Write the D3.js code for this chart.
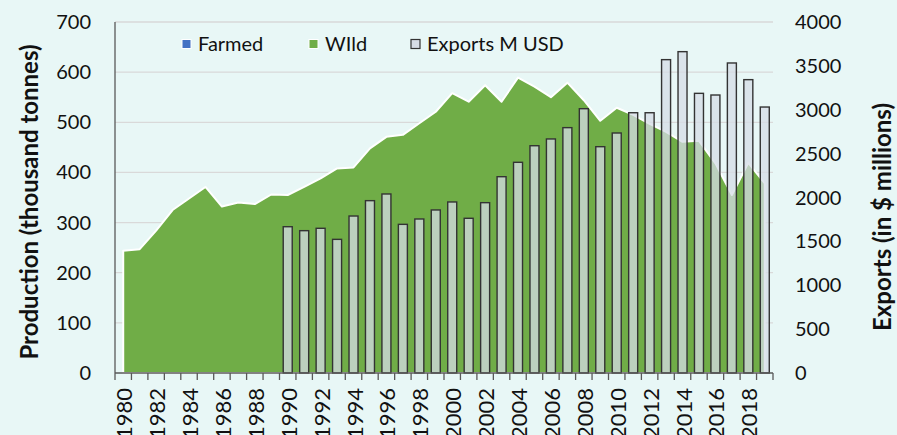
<!DOCTYPE html>
<html>
<head>
<meta charset="utf-8">
<script src="https://cdn.jsdelivr.net/npm/d3@7"></script>
<style>
body{margin:0;background:#e8f7f6;}
text{font-family:Lato, "Open Sans", sans-serif;fill:#111;}
</style>
</head>
<body>
<div id="chart"></div>
<script>
var years = d3.range(1980, 2020)
var tickYears = [1980,1982,1984,1986,1988,1990,1992,1994,1996,1998,2000,2002,2004,2006,2008,2010,2012,2014,2016,2018]

var wild = [244,247,284,325,348,371,332,340,337,356,355,371,388,408,410,448,471,475,498,521,
            558,541,574,541,589,571,550,579,544,503,529,515,497,481,461,463,418,355,419,378]
var farmed = [0,0,0,0,0,0,0,0,0,0,0,0,0,0,0,0,0,0,0,0,
              0,0,0,0,0,0,0,0,0,0,0,0,0,0,0,0,0,0,0,0]

var exportYears = d3.range(1990, 2020)
var exportsUSD = [1667,1622,1649,1523,1789,1964,2040,1694,1755,1858,
                  1949,1763,1941,2237,2401,2590,2667,2796,3012,2579,
                  2735,2966,2966,3571,3662,3187,3168,3533,3343,3031]

var leftTicks = [0,100,200,300,400,500,600,700]
var rightTicks = [0,500,1000,1500,2000,2500,3000,3500,4000]
var legendItems = ["Farmed","WIld","Exports M USD"]

var w = 897
var h = 435
var pLeft = 115
var pRight = 773
var pTop = 22
var pBottom = 373

var green = "#70ad47"
var blue = "#4472c4"

var svg = d3.select("#chart").append("svg")
    .attr("width",w)
    .attr("height",h)

var x = d3.scaleBand().domain(years).range([pLeft,pRight])
var yL = d3.scaleLinear().domain([0,700]).range([pBottom,pTop])
var yR = d3.scaleLinear().domain([0,4000]).range([pBottom,pTop])

// gridlines
svg.selectAll(".grid")
    .data(leftTicks.slice(1))
    .join("line")
    .attr("x1",pLeft).attr("x2",pRight)
    .attr("y1",function(d){return yL(d)})
    .attr("y2",function(d){return yL(d)})
    .attr("stroke","#d9d9d9")
    .attr("stroke-width",1.3)

// wild + farmed stacked
var stackData = years.map(function(y,i){return {year:y,wild:wild[i],farmed:farmed[i]}})
var stacked = d3.stack().keys(["wild","farmed"])(stackData)

var area = d3.area()
    .x(function(d){return x(d.data.year)+x.bandwidth()/2})
    .y0(function(d){return yL(d[0])})
    .y1(function(d){return yL(d[1])})

svg.append("path")
    .datum(stacked[0])
    .attr("d",area)
    .attr("fill",green)
    .attr("stroke","white")
    .attr("stroke-width",2)
    .attr("stroke-linejoin","round")

svg.append("path")
    .datum(stacked[1])
    .attr("d",area)
    .attr("fill",blue)

// export bars
var barW = 9
svg.selectAll(".bar")
    .data(exportsUSD)
    .join("rect")
    .attr("x",function(d,i){return x(exportYears[i])+x.bandwidth()/2-barW/2})
    .attr("y",function(d){return yR(d)})
    .attr("width",barW)
    .attr("height",function(d){return pBottom-yR(d)})
    .attr("fill","#d6dce5")
    .attr("fill-opacity",0.75)
    .attr("stroke","#333")
    .attr("stroke-width",1.4)

// axes lines
svg.append("line")
    .attr("x1",pLeft).attr("x2",pLeft)
    .attr("y1",pTop).attr("y2",pBottom)
    .attr("stroke","#595959").attr("stroke-width",1.3)

svg.append("line")
    .attr("x1",pLeft).attr("x2",pRight)
    .attr("y1",pBottom).attr("y2",pBottom)
    .attr("stroke","#595959").attr("stroke-width",1.3)

var xTicks = years.concat([2020])
svg.selectAll(".xtick")
    .data(xTicks)
    .join("line")
    .attr("x1",function(d,i){return pLeft+i*x.step()})
    .attr("x2",function(d,i){return pLeft+i*x.step()})
    .attr("y1",pBottom).attr("y2",pBottom+7)
    .attr("stroke","#595959").attr("stroke-width",1.3)

svg.selectAll(".xlabel")
    .data(tickYears)
    .join("text")
    .text(function(d){return d})
    .attr("transform",function(d){
        return "translate("+(x(d)+x.bandwidth()/2+9)+","+(pBottom+15)+") rotate(-90)"})
    .attr("text-anchor","end")
    .style("font-size","22px")

svg.selectAll(".ylabel")
    .data(leftTicks)
    .join("text")
    .text(function(d){return d})
    .attr("x",91)
    .attr("y",function(d){return yL(d)+7})
    .attr("text-anchor","end")
    .style("font-size","20px")

svg.selectAll(".rlabel")
    .data(rightTicks)
    .join("text")
    .text(function(d){return d})
    .attr("x",795)
    .attr("y",function(d){return yR(d)+7})
    .style("font-size","20px")

svg.append("text")
    .text("Production (thousand tonnes)")
    .attr("transform","translate(38,202) rotate(-90)")
    .attr("text-anchor","middle")
    .style("font-size","24px")
    .style("font-weight","bold")

svg.append("text")
    .text("Exports (in $ millions)")
    .attr("transform","translate(891,217) rotate(-90)")
    .attr("text-anchor","middle")
    .style("font-size","24px")
    .style("font-weight","bold")

// legend
var legX = [182,309,411]
var legFill = [blue,green,"#d6dce5"]
svg.selectAll(".legbox")
    .data(legendItems)
    .join("rect")
    .attr("x",function(d,i){return legX[i]})
    .attr("y",39.5)
    .attr("width",9).attr("height",9)
    .attr("fill",function(d,i){return legFill[i]})
    .attr("stroke",function(d,i){return i==2 ? "#333" : "white"})
    .attr("stroke-width",function(d,i){return i==2 ? 1.2 : 1})

svg.selectAll(".legtext")
    .data(legendItems)
    .join("text")
    .text(function(d){return d})
    .attr("x",function(d,i){return legX[i]+16})
    .attr("y",51)
    .style("font-size","20px")
</script>
</body>
</html>
